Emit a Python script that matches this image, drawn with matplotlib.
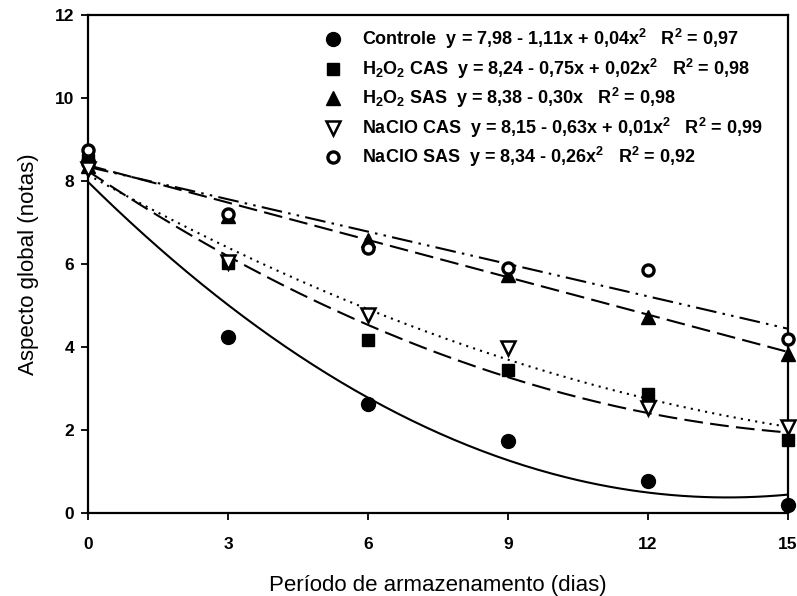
import numpy as np
import matplotlib
matplotlib.use("Agg")
import matplotlib.pyplot as plt
from matplotlib.lines import Line2D

plt.rcParams['font.family'] = ['Liberation Sans', 'DejaVu Sans']
plt.rcParams['mathtext.fontset'] = 'custom'
plt.rcParams['mathtext.rm'] = 'Liberation Sans:bold'
plt.rcParams['mathtext.bf'] = 'Liberation Sans:bold'
plt.rcParams['mathtext.default'] = 'rm'

dias = [0, 3, 6, 9, 12, 15]

controle = [8.45, 4.25, 2.62, 1.73, 0.76, 0.2]
h2o2_cas = [8.5, 6.02, 4.17, 3.45, 2.87, 1.76]
h2o2_sas = [8.35, 7.15, 6.58, 5.73, 4.72, 3.83]
naclo_cas = [8.3, 6.05, 4.77, 3.98, 2.53, 2.08]
naclo_sas = [8.75, 7.2, 6.39, 5.9, 5.85, 4.19]

# coeficientes das curvas ajustadas (a, b, c): y = a + b*x + c*x^2
fit_controle = [7.98, -1.11, 0.0405]
fit_h2o2_cas = [8.24, -0.75, 0.022]
fit_h2o2_sas = [8.38, -0.30, 0.0]
fit_naclo_cas = [8.15, -0.63, 0.015]
fit_naclo_sas = [8.34, -0.26, 0.0]

rotulos = [
    r'Controle  y = 7,98 - 1,11x + 0,04x$^2$   R$^2$ = 0,97',
    r'H$_2$O$_2$ CAS  y = 8,24 - 0,75x + 0,02x$^2$   R$^2$ = 0,98',
    r'H$_2$O$_2$ SAS  y = 8,38 - 0,30x   R$^2$ = 0,98',
    r'NaClO CAS  y = 8,15 - 0,63x + 0,01x$^2$   R$^2$ = 0,99',
    r'NaClO SAS  y = 8,34 - 0,26x$^2$   R$^2$ = 0,92',
]

series = [
    (controle, fit_controle, dict(marker='o', mfc='black', ms=10), '-'),
    (h2o2_cas, fit_h2o2_cas, dict(marker='s', mfc='black', ms=8.5), (0, (9, 3.5))),
    (h2o2_sas, fit_h2o2_sas, dict(marker='^', mfc='black', ms=10), (0, (9, 3.5))),
    (naclo_cas, fit_naclo_cas, dict(marker='v', mfc='white', ms=10, mew=1.8), (0, (1, 2.5))),
    (naclo_sas, fit_naclo_sas, dict(marker='o', mfc='white', ms=8, mew=2.4), (0, (10, 3, 1.2, 3, 1.2, 3))),
]

fig = plt.figure(figsize=(7.97, 5.96), dpi=100)
ax = fig.add_axes([0.1104, 0.1393, 0.8783, 0.8355])

xx = np.linspace(0, 15, 200)
handles = []
for dados, coef, mk, ls in series:
    yy = np.polyval(coef[::-1], xx)
    ax.plot(xx, yy, color='black', lw=1.5, linestyle=ls, zorder=2)
    ax.plot(dias, dados, linestyle='none', color='black', mec='black',
            clip_on=False, zorder=3, **mk)
    handles.append(Line2D([], [], linestyle='none', color='black', mec='black', **mk))

ax.set_xlim(0, 15)
ax.set_ylim(0, 12)
ax.set_xticks(dias)
ax.set_yticks(range(0, 13, 2))
ax.tick_params(direction='out', length=5, width=1.3, labelsize=12.5)
ax.tick_params(axis='x', pad=12)
ax.tick_params(axis='y', pad=5)
for lab in ax.get_xticklabels() + ax.get_yticklabels():
    lab.set_fontweight('bold')
for sp in ax.spines.values():
    sp.set_linewidth(1.6)

ax.set_xlabel('Período de armazenamento (dias)', fontsize=16)
ax.set_ylabel('Aspecto global (notas)', fontsize=16)
ax.xaxis.set_label_coords(0.5, -0.125)
ax.yaxis.set_label_coords(-0.07, 0.5)

leg = ax.legend(handles, rotulos, loc='upper left', bbox_to_anchor=(0.327, 0.99),
                frameon=False, prop={'weight': 'bold', 'size': 13},
                handletextpad=1.1, labelspacing=0.3, borderaxespad=0,
                handlelength=1.0)

fig.savefig('out.png', dpi=100)
